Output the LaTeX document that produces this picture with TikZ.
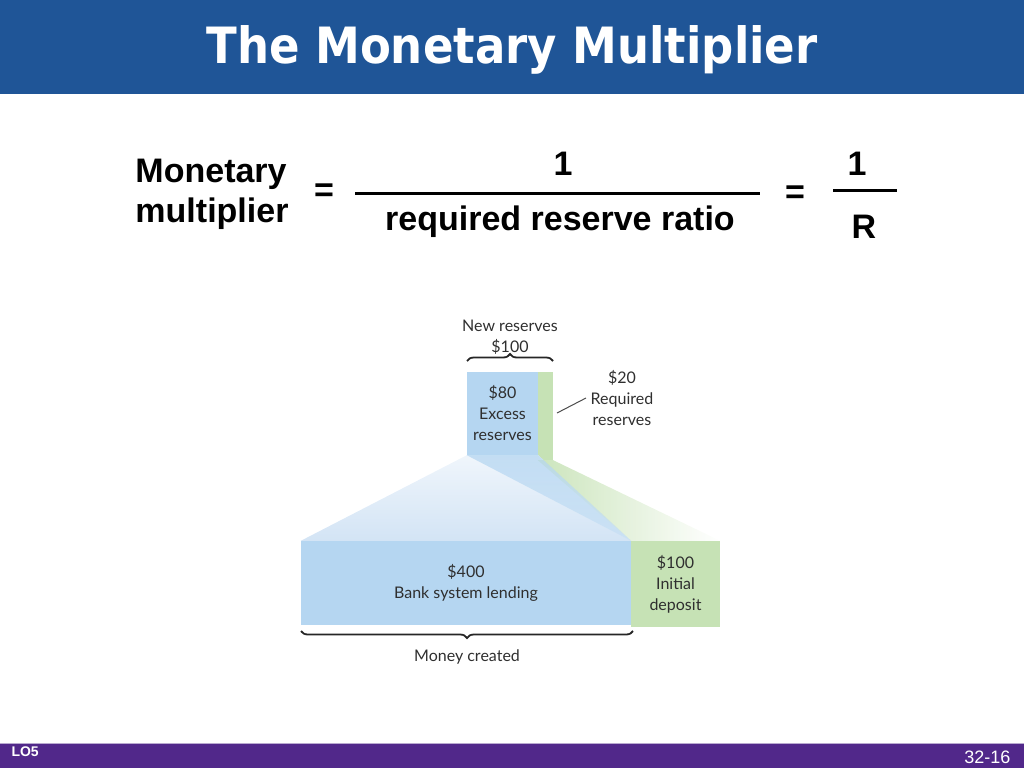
\documentclass[tikz,border=0pt]{standalone}
\usepackage{fontspec}
\setmainfont{Liberation Sans}
\newfontfamily\titlefont[FakeStretch=0.9]{DejaVu Sans}
\newfontfamily\figfont{Lato}
\usetikzlibrary{positioning,decorations.pathreplacing}
\definecolor{titleBlue}{HTML}{1F5597}
\definecolor{footPurple}{HTML}{51288A}
\definecolor{boxBlue}{HTML}{B5D6F1}
\definecolor{fanBlue}{HTML}{D3E4F5}
\definecolor{boxGreen}{HTML}{C6E2B5}
\definecolor{labelGray}{HTML}{2F2F2F}
\tikzset{
    formula/.style={font=\fontsize{34}{40}\selectfont\bfseries,inner sep=0pt,align=left},
    bluebox/.style={fill=boxBlue,inner sep=0pt,align=center,text=labelGray,
        font=\figfont\fontsize{16}{21}\selectfont},
    greenbox/.style={fill=boxGreen,inner sep=0pt,align=center,text=labelGray,
        font=\figfont\fontsize{16}{21}\selectfont},
    figlabel/.style={inner sep=0pt,align=center,text=labelGray,
        font=\figfont\fontsize{16}{21}\selectfont},
    brace/.style={decorate,decoration={brace,amplitude=7pt},draw=black!85,line width=1.8pt},
    fracbar/.style={draw=black,line width=3pt}
}
\begin{document}
\begin{tikzpicture}[x=1pt,y=-1pt]
    \useasboundingbox (0,0) rectangle (1024,768);
    % title and footer bars
    \fill[titleBlue] (0,0) rectangle (1024,94);
    \node[text=white,font=\titlefont\fontsize{50}{54}\selectfont\bfseries] (title) at (512,50) {The Monetary Multiplier};
    \fill[footPurple] (0,743) rectangle (1024,768);
    \draw[footPurple!40!white,line width=0.8pt] (0,743) -- (1024,743);
    \node[text=white,anchor=west,font=\fontsize{14}{16}\selectfont\bfseries] (lo) at (8,752) {LO5};
    \node[text=white,anchor=east,font=\fontsize{18}{20}\selectfont] (page) at (1014,757) {32-16};
    % formula
    \node[formula] (mm) at (212,194) {Monetary\\multiplier};
    \node[formula] (eqa) at (324,193) {=};
    \node[formula] (num) at (563,164) {1};
    \node[formula] (den) at (560,222) {required reserve ratio};
    \coordinate (barL) at (355,193);
    \coordinate (barR) at (760,193);
    \draw[fracbar] (barL) -- (barR);
    \node[formula] (eqb) at (795,195) {=};
    \node[formula] (numr) at (857,164) {1};
    \node[formula] (rr) at (864,227) {R};
    \coordinate (rbarL) at (833,190);
    \coordinate (rbarR) at (897,190);
    \draw[fracbar] (rbarL) -- (rbarR);
    % boxes
    \node[bluebox,minimum width=71pt,minimum height=83pt] (excess) at (502.5,413.5) {\$80\\Excess\\reserves};
    \node[greenbox,minimum width=15pt,minimum height=88pt] (reqstrip) at (545.5,416) {};
    \node[bluebox,minimum width=330pt,minimum height=84pt] (lending) at (466,583) {\$400\\Bank system lending};
    \node[greenbox,minimum width=89pt,minimum height=86pt] (deposit) at (675.5,584) {\$100\\Initial\\deposit};
    % fans
    \shade[top color=fanBlue!35!white,bottom color=fanBlue] (excess.south west) -- (excess.south east)
        -- (lending.north east) -- (lending.north west) -- cycle;
    \shade[left color=boxGreen,right color=white,opacity=0.9] (reqstrip.south west) -- (reqstrip.south east)
        -- (deposit.north east) -- (deposit.north west) -- cycle;
    \shade[top color=boxBlue,bottom color=boxBlue!75!white,opacity=0.75] (excess.south west) -- (excess.south east)
        -- (lending.north east) -- cycle;
    % labels
    \node[figlabel] (newres) at (510,337) {New reserves\\\$100};
    \coordinate (bracetl) at (467,361);
    \coordinate (bracetr) at (553,361);
    \draw[brace] (bracetl) -- (bracetr);
    \node[figlabel] (reqlab) at (622,398) {\$20\\Required\\reserves};
    \coordinate (leadA) at (557,413);
    \coordinate (leadB) at (586,398);
    \draw[black!70,line width=1pt] (leadA) -- (leadB);
    \coordinate (bracebl) at (301,631);
    \coordinate (bracebr) at (633,631);
    \draw[brace] (bracebr) -- (bracebl);
    \node[figlabel] (created) at (467,657) {Money created};
\end{tikzpicture}
\end{document}
